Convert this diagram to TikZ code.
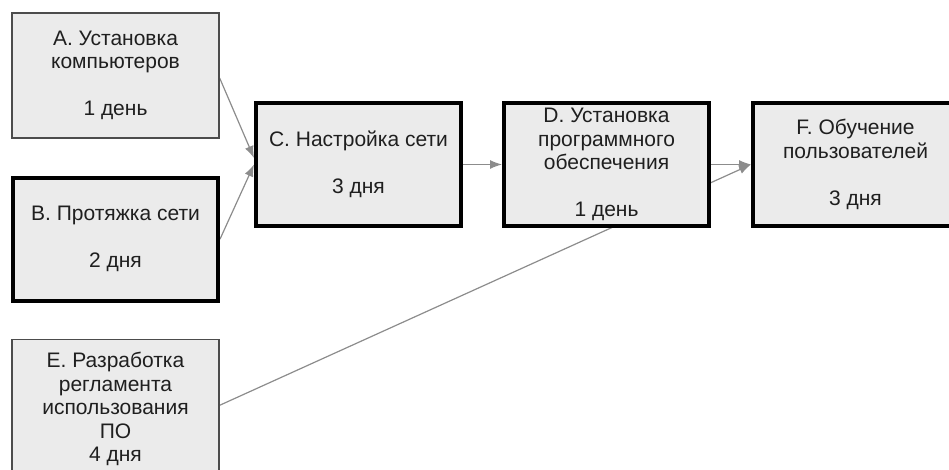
\documentclass[tikz,border=0pt]{standalone}
\usepackage{fontspec}
\setmainfont{Liberation Sans}
\usetikzlibrary{arrows.meta,positioning,backgrounds}

\begin{document}
\begin{tikzpicture}[x=1pt, y=1pt, node distance={39pt},
                    task/.style = {draw=black!70, line width=1.3pt, fill=black!8, text=black!88,
                                   minimum width=207pt, minimum height=125pt, align=center,
                                   font=\fontsize{21}{23.5}\selectfont},
                    crit/.style = {draw=black, line width=4pt, minimum width=205pt, minimum height=123pt},
                    link/.style = {draw=black!45, line width=1.2pt, -{Latex[length=12pt,width=9pt]}}]
                    \useasboundingbox (0,0) rectangle (949,470);
                    \node[task] (A) at (115.5,394.5) {A. Установка\\компьютеров\\[23.5pt]1 день};
                    \node[task, crit] (B) [below=37pt of A] {B. Протяжка сети\\[23.5pt]2 дня};
                    \node[task, minimum height=140pt] (E) [below=36pt of B] {E. Разработка\\регламента\\использования\\ПО\\4 дня};
                    \node[task, crit] (C) at (358.5,305.5) {C. Настройка сети\\[23.5pt]3 дня};
                    \node[task, crit] (D) [right=39pt of C] {D. Установка\\программного\\обеспечения\\[23.5pt]1 день};
                    \node[task, crit] (F) [right=40pt of D] {F. Обучение\\пользователей\\[23.5pt]3 дня};
                    % links go under the boxes
                    \begin{scope}[on background layer]
                    \draw[link] ([yshift=-2.5pt]A.east) -- ([yshift=6.5pt]C.west);
                    \draw[link] (B.east) -- (C.west);
                    \draw[link] (C.east) -- (D.west);
                    \draw[link] (D.east) -- (F.west);
                    \draw[link] ([yshift=4pt]E.east) -- (F.west);
                    \end{scope}
                \end{tikzpicture}
\end{document}
